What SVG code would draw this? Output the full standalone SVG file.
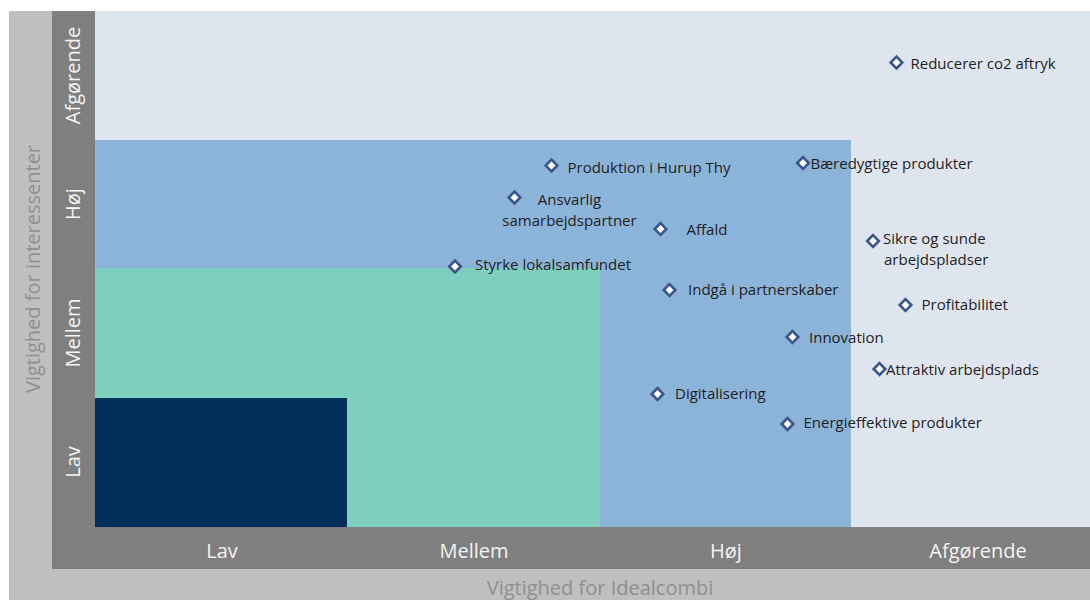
<svg xmlns="http://www.w3.org/2000/svg" width="1090" height="600" viewBox="0 0 1090 600">
<defs>
<style>
.ax{font-family:"Open Sans","Liberation Sans",sans-serif;font-size:20px;fill:#F4F4F4;text-anchor:middle}
.ttl{font-family:"Open Sans","Liberation Sans",sans-serif;font-size:20px;fill:#8F8F8F;text-anchor:middle}
.lb{font-family:"Open Sans","Liberation Sans",sans-serif;font-size:15px;fill:#1E1E1E}
.mk{fill:#FFFFFF;stroke:#3A5589;stroke-width:2.6}
</style>
<path id="dm" d="M0,-5.8 L5.8,0 L0,5.8 L-5.8,0 Z"/>
</defs>
<rect x="0" y="0" width="1090" height="600" fill="#FFFFFF"/>
<g id="frame">
<rect x="9" y="11" width="1081" height="589" fill="#BFBFBF"/>
<rect x="52" y="11" width="1038" height="558" fill="#7F7F7F"/>
<rect x="95" y="11" width="995" height="516" fill="#DEE5EE"/>
<rect x="95" y="140" width="756" height="387" fill="#8CB4D9"/>
<rect x="95" y="268" width="505" height="259" fill="#7ECFC0"/>
<rect x="95" y="398" width="252" height="129" fill="#00305A"/>
</g>
<g id="axis-x">
<text class="ax" x="222" y="558">Lav</text>
<text class="ax" x="474" y="558">Mellem</text>
<text class="ax" x="726" y="558">Høj</text>
<text class="ax" x="978" y="558">Afgørende</text>
<text class="ttl" x="600" y="595">Vigtighed for Idealcombi</text>
</g>
<g id="axis-y">
<text class="ax" transform="translate(80,75.5) rotate(-90)">Afgørende</text>
<text class="ax" transform="translate(80,204) rotate(-90)">Høj</text>
<text class="ax" transform="translate(80,333) rotate(-90)">Mellem</text>
<text class="ax" transform="translate(80,462) rotate(-90)">Lav</text>
<text class="ttl" transform="translate(40,269) rotate(-90)">Vigtighed for interessenter</text>
</g>
<g id="connectors"></g>
<g id="n-reducerer"><use href="#dm" class="mk" x="896.5" y="62.5"/><text class="lb" x="910.5" y="69">Reducerer co2 aftryk</text></g>
<g id="n-produktion"><use href="#dm" class="mk" x="551.5" y="165.5"/><text class="lb" x="567.5" y="172.5">Produktion i Hurup Thy</text></g>
<g id="n-ansvarlig"><use href="#dm" class="mk" x="514.5" y="197.5"/><text class="lb" text-anchor="middle" x="569.5" y="205">Ansvarlig</text><text class="lb" text-anchor="middle" x="569.5" y="226">samarbejdspartner</text></g>
<g id="n-affald"><use href="#dm" class="mk" x="660.5" y="229"/><text class="lb" x="686.5" y="235">Affald</text></g>
<g id="n-styrke"><use href="#dm" class="mk" x="455" y="266.5"/><text class="lb" x="475" y="269.5">Styrke lokalsamfundet</text></g>
<g id="n-indgaa"><use href="#dm" class="mk" x="669.5" y="290"/><text class="lb" x="688" y="295">Indgå i partnerskaber</text></g>
<g id="n-innovation"><use href="#dm" class="mk" x="792.5" y="337"/><text class="lb" x="809" y="343">Innovation</text></g>
<g id="n-digitalisering"><use href="#dm" class="mk" x="657.5" y="394"/><text class="lb" x="675" y="398.5">Digitalisering</text></g>
<g id="n-energi"><use href="#dm" class="mk" x="787.5" y="424"/><text class="lb" x="803.5" y="428">Energieffektive produkter</text></g>
<g id="n-baeredygtige"><use href="#dm" class="mk" x="803" y="163"/><text class="lb" x="810.5" y="169">Bæredygtige produkter</text></g>
<g id="n-sikre"><use href="#dm" class="mk" x="873" y="241"/><text class="lb" x="883" y="244">Sikre og sunde</text><text class="lb" x="884" y="264.5">arbejdspladser</text></g>
<g id="n-profit"><use href="#dm" class="mk" x="905.5" y="305"/><text class="lb" x="921.5" y="310">Profitabilitet</text></g>
<g id="n-attraktiv"><use href="#dm" class="mk" x="879.5" y="369"/><text class="lb" x="886" y="374.5">Attraktiv arbejdsplads</text></g>
</svg>
